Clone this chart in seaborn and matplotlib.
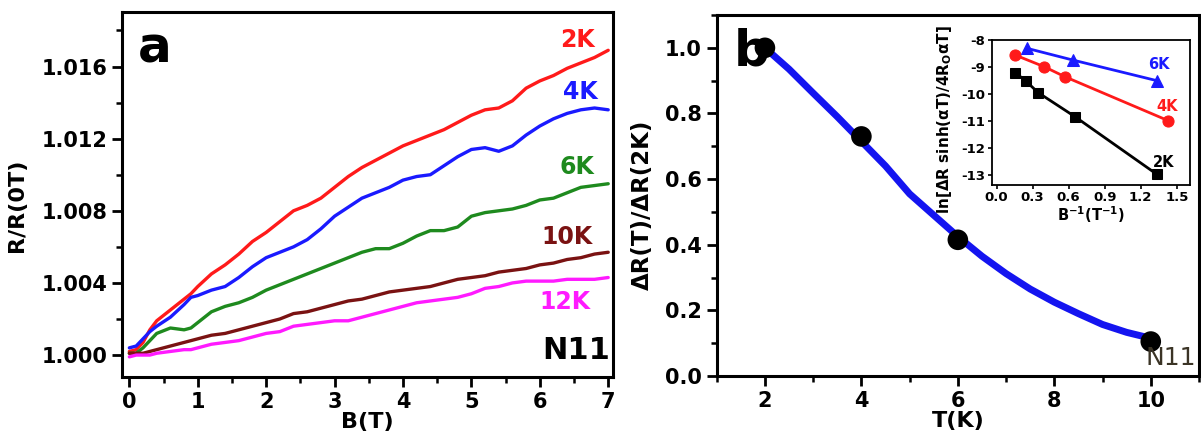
import numpy as np
import pandas as pd
import seaborn as sns
import matplotlib.pyplot as plt
from matplotlib.ticker import MultipleLocator, FormatStrFormatter

# ---- panel a : R/R(0T) vs B ----
field = [0, 0.1, 0.2, 0.3, 0.4, 0.6, 0.8, 0.9, 1.0, 1.2, 1.4, 1.6, 1.8, 2.0, 2.2, 2.4, 2.6, 2.8, 3.0,
         3.2, 3.4, 3.6, 3.8, 4.0, 4.2, 4.4, 4.6, 4.8, 5.0, 5.2, 5.4, 5.6, 5.8, 6.0, 6.2, 6.4, 6.6, 6.8, 7.0]
rr_2k = [1.0002, 1.0003, 1.0007, 1.0014, 1.0019, 1.0025, 1.0031, 1.0034, 1.0038, 1.0045, 1.0050, 1.0056,
         1.0063, 1.0068, 1.0074, 1.0080, 1.0083, 1.0087, 1.0093, 1.0099, 1.0104, 1.0108, 1.0112, 1.0116,
         1.0119, 1.0122, 1.0125, 1.0129, 1.0133, 1.0136, 1.0137, 1.0141, 1.0148, 1.0152, 1.0155, 1.0159,
         1.0162, 1.0165, 1.0169]
rr_4k = [1.0004, 1.0005, 1.0009, 1.0013, 1.0016, 1.0021, 1.0028, 1.0032, 1.0033, 1.0036, 1.0038, 1.0043,
         1.0049, 1.0054, 1.0057, 1.0060, 1.0064, 1.0070, 1.0077, 1.0082, 1.0087, 1.0090, 1.0093, 1.0097,
         1.0099, 1.0100, 1.0105, 1.0110, 1.0114, 1.0115, 1.0113, 1.0116, 1.0122, 1.0127, 1.0131, 1.0134,
         1.0136, 1.0137, 1.0136]
rr_6k = [1.0001, 1.0001, 1.0004, 1.0008, 1.0012, 1.0015, 1.0014, 1.0015, 1.0018, 1.0024, 1.0027, 1.0029,
         1.0032, 1.0036, 1.0039, 1.0042, 1.0045, 1.0048, 1.0051, 1.0054, 1.0057, 1.0059, 1.0059, 1.0062,
         1.0066, 1.0069, 1.0069, 1.0071, 1.0077, 1.0079, 1.0080, 1.0081, 1.0083, 1.0086, 1.0087, 1.0090,
         1.0093, 1.0094, 1.0095]
rr_10k = [1.0001, 1.0001, 1.0001, 1.0002, 1.0003, 1.0005, 1.0007, 1.0008, 1.0009, 1.0011, 1.0012, 1.0014,
          1.0016, 1.0018, 1.0020, 1.0023, 1.0024, 1.0026, 1.0028, 1.0030, 1.0031, 1.0033, 1.0035, 1.0036,
          1.0037, 1.0038, 1.0040, 1.0042, 1.0043, 1.0044, 1.0046, 1.0047, 1.0048, 1.0050, 1.0051, 1.0053,
          1.0054, 1.0056, 1.0057]
rr_12k = [0.9999, 1.0000, 1.0000, 1.0000, 1.0001, 1.0002, 1.0003, 1.0003, 1.0004, 1.0006, 1.0007, 1.0008,
          1.0010, 1.0012, 1.0013, 1.0016, 1.0017, 1.0018, 1.0019, 1.0019, 1.0021, 1.0023, 1.0025, 1.0027,
          1.0029, 1.0030, 1.0031, 1.0032, 1.0034, 1.0037, 1.0038, 1.0040, 1.0041, 1.0041, 1.0041, 1.0042,
          1.0042, 1.0042, 1.0043]
temps_a = ['2K', '4K', '6K', '10K', '12K']
colors_a = ['#ff1a1a', '#1a1aff', '#1e8a1e', '#7a1212', '#ff1aff']

# ---- panel b : dR(T)/dR(2K) vs T ----
t_pts = [2, 4, 6, 10]
dr_pts = [1.0, 0.73, 0.415, 0.105]
t_fit = [2, 2.5, 3, 3.5, 4, 4.5, 5, 5.5, 6, 6.5, 7, 7.5, 8, 8.5, 9, 9.5, 10]
dr_fit = [1.0, 0.935, 0.862, 0.79, 0.715, 0.64, 0.555, 0.49, 0.425, 0.365, 0.312, 0.265, 0.225,
          0.19, 0.157, 0.133, 0.115]

# ---- inset ----
invb_2k = [0.157, 0.244, 0.347, 0.653, 1.333]
ln_2k = [-9.21, -9.52, -9.95, -10.84, -12.97]
invb_4k = [0.157, 0.397, 0.569, 1.43]
ln_4k = [-8.56, -8.99, -9.36, -10.99]
invb_6k = [0.255, 0.633, 1.338]
ln_6k = [-8.31, -8.74, -9.51]

sns.set_style("ticks")
plt.rcParams['font.family'] = ['DejaVu Sans']
plt.rcParams['font.weight'] = 'bold'
plt.rcParams['axes.labelweight'] = 'bold'
plt.rcParams['mathtext.default'] = 'regular'
for k in ('text.color', 'axes.labelcolor', 'axes.edgecolor', 'xtick.color', 'ytick.color'):
    plt.rcParams[k] = 'black'

fig = plt.figure(figsize=(12.01, 4.43), dpi=100)
ax_a = fig.add_axes([122.5 / 1201, 66.3 / 443, 490.5 / 1201, 365 / 443])
ax_b = fig.add_axes([716.7 / 1201, 67 / 443, 482.3 / 1201, 361 / 443])
ax_in = fig.add_axes([991.7 / 1201, 258 / 443, 198.3 / 1201, 145 / 443])

for ax in (ax_a, ax_b):
    for s in ax.spines.values():
        s.set_linewidth(2.2)
    ax.tick_params(which='major', direction='out', length=7, width=2, labelsize=15, pad=4)
    ax.tick_params(which='minor', direction='out', length=4, width=1.8)

# panel a
df_a = pd.DataFrame({
    'B': field * 5,
    'R': rr_2k + rr_4k + rr_6k + rr_10k + rr_12k,
    'T': sum([[t] * len(field) for t in temps_a], []),
})
sns.lineplot(data=df_a, x='B', y='R', hue='T', palette=dict(zip(temps_a, colors_a)),
             lw=2.4, legend=False, estimator=None, sort=False, ax=ax_a)
ax_a.set_xlim(-0.1, 7.07)
ax_a.set_ylim(0.9988, 1.01904)
ax_a.xaxis.set_major_locator(MultipleLocator(1))
ax_a.xaxis.set_minor_locator(MultipleLocator(0.5))
ax_a.yaxis.set_major_locator(MultipleLocator(0.004))
ax_a.yaxis.set_minor_locator(MultipleLocator(0.002))
ax_a.yaxis.set_major_formatter(FormatStrFormatter('%.3f'))
ax_a.set_xlabel('B(T)', fontsize=16, labelpad=0)
ax_a.set_ylabel('R/R(0T)', fontsize=16)
ax_a.yaxis.set_label_coords(-0.195, 0.47)

lab_pos = [(0.927, 0.922), (0.933, 0.780), (0.927, 0.575), (0.906, 0.383), (0.902, 0.205)]
for t, c, (x, y) in zip(temps_a, colors_a, lab_pos):
    ax_a.text(x, y, t, color=c, fontsize=17, ha='center', va='center', transform=ax_a.transAxes)
ax_a.text(0.925, 0.073, 'N11', fontsize=22, ha='center', va='center', transform=ax_a.transAxes)
ax_a.text(0.065, 0.90, 'a', fontsize=36, ha='center', va='center', transform=ax_a.transAxes)

# panel b
sns.lineplot(x=t_fit, y=dr_fit, color='#1414f0', lw=5, ax=ax_b)
sns.scatterplot(x=t_pts, y=dr_pts, color='black', s=220, edgecolor='none', zorder=3, ax=ax_b)
ax_b.set_xlim(1, 11)
ax_b.set_ylim(0, 1.1)
ax_b.xaxis.set_major_locator(MultipleLocator(2))
ax_b.xaxis.set_minor_locator(MultipleLocator(1))
ax_b.yaxis.set_major_locator(MultipleLocator(0.2))
ax_b.yaxis.set_minor_locator(MultipleLocator(0.1))
ax_b.yaxis.set_major_formatter(FormatStrFormatter('%.1f'))
ax_b.set_xlabel('T(K)', fontsize=16, labelpad=0)
ax_b.set_ylabel('ΔR(T)/ΔR(2K)', fontsize=16.5)
ax_b.yaxis.set_label_coords(-0.13, 0.474)
ax_b.text(0.073, 0.90, 'b', fontsize=36, ha='center', va='center', transform=ax_b.transAxes)
ax_b.text(0.942, 0.05, 'N11', fontsize=18, fontweight='normal', color='#3b3426',
          ha='center', va='center', transform=ax_b.transAxes)

# inset
sns.lineplot(x=invb_2k, y=ln_2k, color='black', lw=2, marker='s', markersize=7,
             markeredgecolor='black', ax=ax_in)
sns.lineplot(x=invb_4k, y=ln_4k, color='#ff1a1a', lw=2, marker='o', markersize=8,
             markeredgecolor='#ff1a1a', ax=ax_in)
sns.lineplot(x=invb_6k, y=ln_6k, color='#1a1aff', lw=2, marker='^', markersize=8,
             markeredgecolor='#1a1aff', ax=ax_in)
ax_in.set_xlim(-0.04, 1.61)
ax_in.set_ylim(-13.37, -8)
ax_in.xaxis.set_major_locator(MultipleLocator(0.3))
ax_in.xaxis.set_major_formatter(FormatStrFormatter('%.1f'))
ax_in.yaxis.set_major_locator(MultipleLocator(1))
ax_in.yaxis.set_major_formatter(FormatStrFormatter('%d'))
for s in ax_in.spines.values():
    s.set_linewidth(1.3)
ax_in.tick_params(direction='out', length=3, width=1.2, labelsize=9.5, pad=1.5)
ax_in.set_xlabel('B$^{-1}$(T$^{-1}$)', fontsize=10.5, labelpad=0)
ax_in.set_ylabel('ln[ΔR sinh(αT)/4R$_O$αT]', fontsize=11)
ax_in.yaxis.set_label_coords(-0.19, 0.45)
ax_in.text(0.845, 0.828, '6K', color='#1a1aff', fontsize=10.5, ha='center', va='center',
           transform=ax_in.transAxes)
ax_in.text(0.885, 0.538, '4K', color='#ff1a1a', fontsize=10.5, ha='center', va='center',
           transform=ax_in.transAxes)
ax_in.text(0.865, 0.152, '2K', color='black', fontsize=10.5, ha='center', va='center',
           transform=ax_in.transAxes)

fig.savefig('out.png', dpi=100)
